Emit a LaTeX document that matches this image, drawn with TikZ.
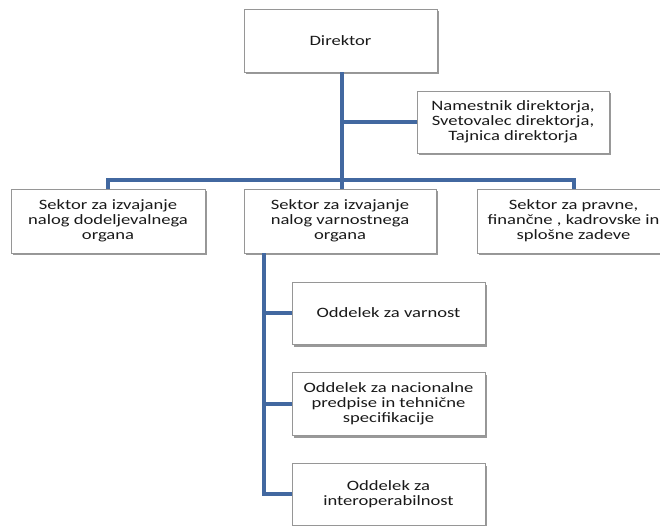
\documentclass[tikz,border=0pt]{standalone}
\usepackage{fontspec}
\setmainfont{Carlito}[FakeStretch=1.3]
\usetikzlibrary{shadows,calc}
\definecolor{connc}{RGB}{66,104,160}
\definecolor{bordc}{RGB}{150,150,150}
\begin{document}
\begin{tikzpicture}[x=1pt,y=-1pt,
  box/.style={draw=bordc, line width=0.9pt, fill=white, align=center,
    font=\fontsize{14.3}{15}\selectfont, text=black!90, inner sep=0pt,
    drop shadow={shadow xshift=2pt, shadow yshift=-2.5pt, fill=black, opacity=0.4}},
  connl/.style={draw=connc, line width=4pt}]
\useasboundingbox[fill=white] (0,0) rectangle (660,526);
% boxes
\node[box, minimum width=193pt, minimum height=63pt] (dir) at (340.5,40.5) {Direktor};
\node[box, minimum width=192pt, minimum height=62pt] (asst) at (513,122) {Namestnik direktorja,\\Svetovalec direktorja,\\Tajnica direktorja};
\node[box, minimum width=194pt, minimum height=64pt] (left) at (108,221) {Sektor za izvajanje\\nalog dodeljevalnega\\organa};
\node[box, minimum width=192pt, minimum height=64pt] (mid) at (340,221) {Sektor za izvajanje\\nalog varnostnega\\organa};
\node[box, minimum width=193pt, minimum height=64pt] (right) at (573.5,221) {Sektor za pravne,\\finančne , kadrovske in\\splošne zadeve};
\node[box, minimum width=193pt, minimum height=62pt] (o1) at (388.5,313) {Oddelek za varnost};
\node[box, minimum width=193pt, minimum height=63pt] (o2) at (388.5,403.5) {Oddelek za nacionalne\\predpise in tehnične\\specifikacije};
\node[box, minimum width=193pt, minimum height=62pt] (o3) at (388.5,494) {Oddelek za\\interoperabilnost};
% connectors
\coordinate (jn) at (342,180);
\coordinate (sx) at ($(mid.south west)+(20,0)$);
\draw[connl] (dir.south -| jn) -- (jn);
\draw[connl] (jn |- asst.west) -- (asst.west);
\draw[connl] (left.north) |- (jn) -| (right.north);
\draw[connl] (jn) -- (jn |- mid.north);
\draw[connl] (sx) |- (o3.west);
\draw[connl] (sx |- o1.west) -- (o1.west);
\draw[connl] (sx |- o2.west) -- (o2.west);
\end{tikzpicture}
\end{document}
